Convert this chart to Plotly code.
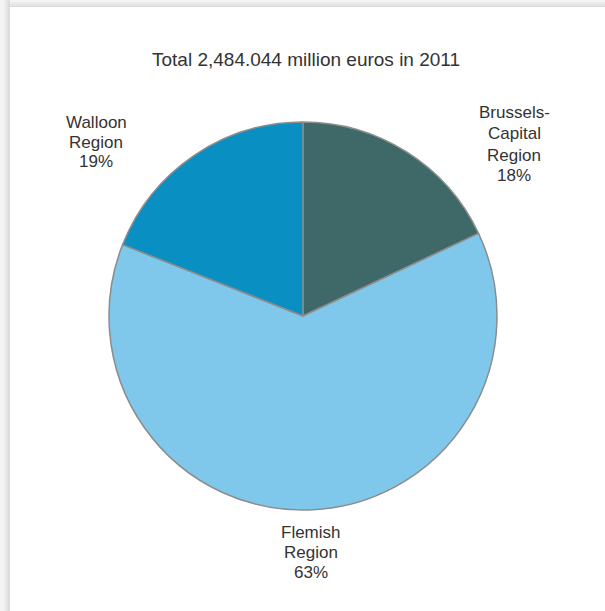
import plotly.graph_objects as go

# Regional shares of the total (percent)
regions = ["Brussels-Capital Region", "Flemish Region", "Walloon Region"]
label_lines = [["Brussels-", "Capital", "Region"], ["Flemish", "Region"], ["Walloon", "Region"]]
shares = [18, 63, 19]
colors = ["#3f6869", "#7fc8ec", "#0a8fc2"]
title_text = "Total 2,484.044 million euros in 2011"

W, H = 605, 611
FONT = "Liberation Sans, Arial, Helvetica, sans-serif"
TXT = "#333333"

fig = go.Figure()
fig.add_trace(go.Pie(
    labels=regions,
    values=shares,
    sort=False,
    direction="clockwise",
    rotation=0,
    marker=dict(colors=colors, line=dict(color="#8c8c8c", width=1.5)),
    textinfo="none",
    hoverinfo="label+percent",
    showlegend=False,
    domain=dict(x=[109 / W, 497 / W], y=[1 - 510 / H, 1 - 122 / H]),
))

# Card shadow along top and left edges
shapes = []
steps = [("#dcdcdc", 0), ("#e4e4e4", 2), ("#ececec", 4), ("#f4f4f4", 6)]
for col, k in steps:
    shapes.append(dict(type="rect", xref="paper", yref="paper", layer="below",
                       x0=0, x1=1, y0=1 - (8 - k) / H, y1=1,
                       fillcolor=col, line=dict(width=0)))
for col, k in steps:
    shapes.append(dict(type="rect", xref="paper", yref="paper", layer="below",
                       x0=0, x1=(10 - k) / W, y0=0, y1=1,
                       fillcolor=col, line=dict(width=0)))
shapes.append(dict(type="rect", xref="paper", yref="paper", layer="below",
                   x0=10 / W, x1=1, y0=0, y1=1 - 7 / H,
                   fillcolor="white", line=dict(width=0)))

total = sum(shares)
# label block: centre x, y of first line, line step (pixels)
label_pos = [(514, 113, 21), (311, 532, 20), (96, 122, 20)]
annotations = [dict(text=title_text, x=306 / W, y=1 - 60 / H, xref="paper", yref="paper",
                    xanchor="center", yanchor="middle", showarrow=False,
                    font=dict(family=FONT, size=19, color=TXT))]
for lines, v, (px, py, step) in zip(label_lines, shares, label_pos):
    pct = f"{round(100 * v / total)}%"
    for i, line in enumerate(lines + [pct]):
        annotations.append(dict(
            text=line, x=px / W, y=1 - (py + i * step) / H,
            xref="paper", yref="paper", showarrow=False,
            xanchor="center", yanchor="middle",
            font=dict(family=FONT, size=17, color=TXT)))

fig.update_layout(
    width=W, height=H,
    margin=dict(l=0, r=0, t=0, b=0),
    paper_bgcolor="white",
    plot_bgcolor="white",
    shapes=shapes,
    annotations=annotations,
)

fig.write_html("out.html")
